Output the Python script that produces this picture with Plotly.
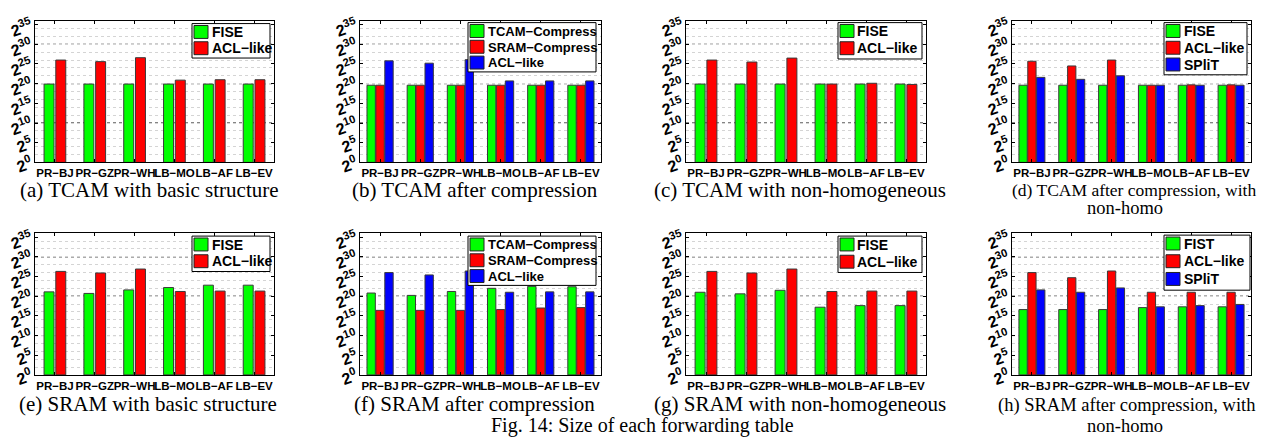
import plotly.graph_objects as go

W, H = 1268, 445

categories = ["PR−BJ", "PR−GZ", "PR−WH", "LB−MO", "LB−AF", "LB−EV"]
ytick_exp = [0, 5, 10, 15, 20, 25, 30, 35]

# values are log2 of table size
a_fise = [19.9, 19.9, 19.9, 19.9, 19.9, 19.9]
a_acl = [26.0, 25.6, 26.6, 20.9, 21.0, 21.0]

b_tcam = [19.6, 19.6, 19.6, 19.6, 19.6, 19.6]
b_sram = [19.6, 19.6, 19.6, 19.6, 19.6, 19.6]
b_acl = [25.8, 25.2, 26.1, 20.7, 20.7, 20.7]

c_fise = [19.9, 19.9, 19.9, 19.9, 19.9, 19.9]
c_acl = [26.0, 25.5, 26.5, 19.9, 20.1, 19.8]

d_fise = [19.6, 19.6, 19.6, 19.6, 19.6, 19.6]
d_acl = [25.7, 24.5, 26.0, 19.6, 19.7, 19.7]
d_split = [21.6, 21.1, 22.0, 19.6, 19.6, 19.6]

e_fise = [21.1, 20.7, 21.6, 22.2, 22.8, 22.8]
e_acl = [26.3, 25.9, 26.9, 21.2, 21.3, 21.3]

f_tcam = [20.8, 20.2, 21.2, 22.0, 22.5, 22.4]
f_sram = [16.4, 16.4, 16.4, 16.6, 17.0, 17.1]
f_acl = [26.0, 25.4, 26.4, 21.0, 21.1, 21.1]

g_fise = [21.0, 20.6, 21.5, 17.2, 17.6, 17.6]
g_acl = [26.3, 25.9, 26.9, 21.2, 21.3, 21.3]

h_fist = [16.6, 16.6, 16.6, 17.1, 17.3, 17.3]
h_acl = [26.0, 24.7, 26.4, 21.0, 21.0, 21.0]
h_split = [21.6, 21.0, 22.1, 17.3, 17.6, 17.9]

panels = [
    dict(series=[("FISE", a_fise), ("ACL−like", a_acl)],
         caption=["(a) TCAM with basic structure"]),
    dict(series=[("TCAM−Compress", b_tcam), ("SRAM−Compress", b_sram), ("ACL−like", b_acl)],
         caption=["(b) TCAM after compression"]),
    dict(series=[("FISE", c_fise), ("ACL−like", c_acl)],
         caption=["(c) TCAM with non-homogeneous"]),
    dict(series=[("FISE", d_fise), ("ACL−like", d_acl), ("SPliT", d_split)],
         caption=["(d) TCAM after compression, with", "non-homo"]),
    dict(series=[("FISE", e_fise), ("ACL−like", e_acl)],
         caption=["(e) SRAM with basic structure"]),
    dict(series=[("TCAM−Compress", f_tcam), ("SRAM−Compress", f_sram), ("ACL−like", f_acl)],
         caption=["(f) SRAM after compression"]),
    dict(series=[("FISE", g_fise), ("ACL−like", g_acl)],
         caption=["(g) SRAM with non-homogeneous"]),
    dict(series=[("FIST", h_fist), ("ACL−like", h_acl), ("SPliT", h_split)],
         caption=["(h) SRAM after compression, with", "non-homo"]),
]
fig_caption = "Fig. 14: Size of each forwarding table"

# ---------------- styling / layout ----------------
colors = ["#00FF00", "#FF0000", "#0000FF"]
plot_x = [(27, 266), (352, 593), (678, 918), (1004, 1243)]
plot_y = [(7, 155), (229, 377)]

# legend geometry (pixels): right, top, width, font size, pitch
leg_geo = [
    (262, 10, 78, 14, 17), (588, 9, 128, 13, 16.5), (914, 9, 84, 14, 18), (1239, 9, 83, 14, 17.5),
    (262, 232, 78, 14, 17.5), (588, 232, 128, 13, 16.5), (914, 232, 84, 14, 18), (1242, 231, 86, 14, 18.5),
]
# caption geometry: (center x, center y, font size) per line
cap_geo = [
    [(141, 184, 21)], [(467, 184, 21)], [(792, 184, 21)],
    [(1126, 184, 17.5), (1117, 203, 18.5)],
    [(140, 407, 21)], [(466, 407, 21)], [(792, 407, 21)],
    [(1118, 409, 18.5), (1117, 430, 18.5)],
]

def px(x):
    return x / W

def py(y):
    return 1 - y / H

SANS = "Liberation Sans, Arial, sans-serif"
SERIF = "Liberation Serif, Times New Roman, serif"

fig = go.Figure()
layout = dict(
    width=W, height=H, margin=dict(l=0, r=0, t=0, b=0),
    paper_bgcolor="white", plot_bgcolor="white",
    barmode="overlay", showlegend=False,
)
shapes = []
annotations = []

for k, p in enumerate(panels):
    idx = k + 1
    r, c = divmod(k, 4)
    xs = "x" if idx == 1 else f"x{idx}"
    ys = "y" if idx == 1 else f"y{idx}"
    xa = "xaxis" if idx == 1 else f"xaxis{idx}"
    ya = "yaxis" if idx == 1 else f"yaxis{idx}"
    n = len(p["series"])
    if n == 2:
        slot, bw = 0.295, 0.25
    else:
        slot, bw = 0.222, 0.208
    for i, (name, vals) in enumerate(p["series"]):
        off = (i - (n - 1) / 2) * slot - bw / 2
        fig.add_trace(go.Bar(
            x=categories, y=vals, name=name, width=bw, offset=off,
            marker=dict(color=colors[i], line=dict(color="#3a3a3a", width=1)),
            xaxis=xs, yaxis=ys, showlegend=False,
        ))
    x0, x1 = plot_x[c]
    y0, y1 = plot_y[r]
    layout[xa] = dict(
        domain=[px(x0), px(x1)], anchor=ys, type="category",
        range=[-0.5, len(categories) - 0.5],
        showline=True, mirror="ticks", linecolor="black", linewidth=1,
        ticks="inside", ticklen=3, tickcolor="black", tickangle=0,
        tickfont=dict(family=SANS, size=11.5, color="black", weight="bold"),
        showgrid=False, zeroline=False, fixedrange=True,
    )
    layout[ya] = dict(
        domain=[py(y1), py(y0)], anchor=xs, range=[0, 36],
        tickmode="array", tickvals=ytick_exp,
        ticktext=[f"2<sup>{e}</sup>" for e in ytick_exp],
        tickangle=-20,
        tickfont=dict(family=SANS, size=16, color="black", weight="bold"),
        showline=True, mirror="ticks", linecolor="black", linewidth=1,
        ticks="inside", ticklen=3, tickcolor="black",
        showgrid=False, zeroline=False, fixedrange=True,
        minor=dict(dtick=2, tick0=0, showgrid=True, gridcolor="#d4d4d4",
                   griddash="dot", gridwidth=1),
    )
    for gv in (10, 20, 30):
        shapes.append(dict(type="line", xref=f"{xs} domain", yref=ys,
                           x0=0, x1=1, y0=gv, y1=gv, layer="below",
                           line=dict(color="black", width=1, dash="dot")))
    # legend box
    R, T, LW, fs, pitch = leg_geo[k]
    L = R - LW
    shapes.append(dict(type="rect", xref="paper", yref="paper",
                       x0=px(L), x1=px(R), y0=py(T + n * pitch + 2), y1=py(T),
                       fillcolor="white", line=dict(color="black", width=1), layer="above"))
    for i, (name, _) in enumerate(p["series"]):
        st = T + 2 + i * pitch
        shapes.append(dict(type="rect", xref="paper", yref="paper",
                           x0=px(L + 2), x1=px(L + 16), y0=py(st + 13.5), y1=py(st),
                           fillcolor=colors[i], line=dict(color="#222", width=1), layer="above"))
        annotations.append(dict(x=px(L + 17.5), y=py(st + 7), xref="paper", yref="paper",
                                text=name, showarrow=False, xanchor="left", yanchor="middle",
                                font=dict(family=SANS, size=fs, color="black", weight="bold")))
    # caption
    for line_text, (cx, cy, cs) in zip(p["caption"], cap_geo[k]):
        annotations.append(dict(x=px(cx), y=py(cy), xref="paper", yref="paper",
                                text=line_text, showarrow=False,
                                xanchor="center", yanchor="middle",
                                font=dict(family=SERIF, size=cs, color="black")))

annotations.append(dict(x=px(634), y=py(444), xref="paper", yref="paper",
                        text=fig_caption, showarrow=False, xanchor="center", yanchor="bottom",
                        font=dict(family=SERIF, size=20, color="black")))

layout["shapes"] = shapes
layout["annotations"] = annotations
fig.update_layout(**layout)
fig.write_html("out.html")
